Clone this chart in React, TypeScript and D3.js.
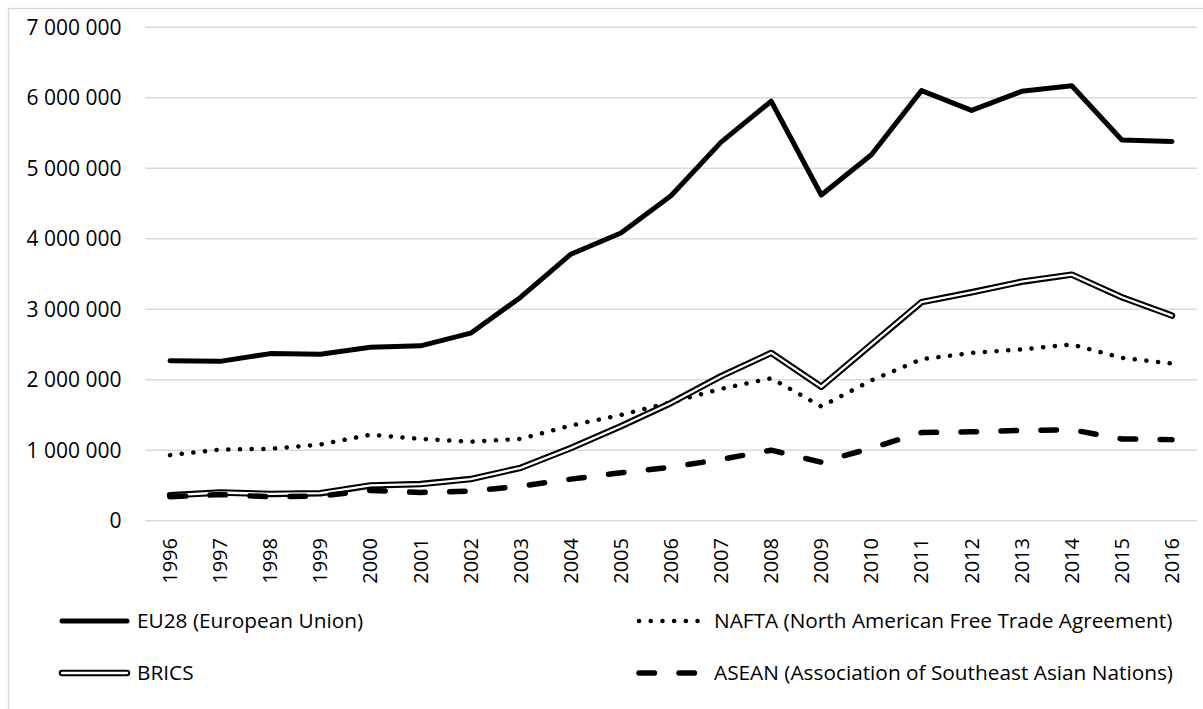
import React, { useEffect, useRef } from "react";
import * as d3 from "d3";

const years = ["1996", "1997", "1998", "1999", "2000", "2001", "2002", "2003", "2004", "2005", "2006", "2007", "2008", "2009", "2010", "2011", "2012", "2013", "2014", "2015", "2016"];
const eu28 = [2270000, 2260000, 2370000, 2360000, 2460000, 2480000, 2660000, 3170000, 3780000, 4080000, 4610000, 5370000, 5950000, 4620000, 5190000, 6100000, 5820000, 6090000, 6170000, 5400000, 5380000];
const nafta = [930000, 1010000, 1020000, 1080000, 1220000, 1160000, 1120000, 1160000, 1350000, 1500000, 1680000, 1870000, 2020000, 1620000, 1990000, 2290000, 2380000, 2430000, 2500000, 2310000, 2230000];
const brics = [360000, 400000, 380000, 390000, 500000, 520000, 590000, 750000, 1030000, 1340000, 1670000, 2050000, 2380000, 1900000, 2500000, 3100000, 3240000, 3390000, 3490000, 3170000, 2910000];
const asean = [340000, 370000, 340000, 350000, 430000, 400000, 420000, 490000, 590000, 680000, 760000, 870000, 1000000, 830000, 1030000, 1250000, 1260000, 1280000, 1290000, 1160000, 1150000];
const yTicks = [0, 1000000, 2000000, 3000000, 4000000, 5000000, 6000000, 7000000];

const seriesNames = [
  "EU28 (European Union)",
  "NAFTA (North American Free Trade Agreement)",
  "BRICS",
  "ASEAN (Association of Southeast Asian Nations)",
];

const W = 1203;
const H = 709;
const FONT = "'Open Sans', sans-serif";

// how each series is stroked
function styleLine(sel, key) {
  if (key === 0) {
    sel.attr("stroke", "#000").attr("stroke-width", 5).attr("stroke-linecap", "round");
  } else if (key === 1) {
    sel
      .attr("stroke", "#000")
      .attr("stroke-width", 4.5)
      .attr("stroke-linecap", "round")
      .attr("stroke-dasharray", "0.1 11.6");
  } else if (key === 3) {
    sel
      .attr("stroke", "#000")
      .attr("stroke-width", 5.5)
      .attr("stroke-linecap", "round")
      .attr("stroke-dasharray", "15.5 24.5");
  }
}

export default function App() {
  const ref = useRef(null);

  useEffect(() => {
    drawChart();
    //eslint-disable-next-line
  }, []);

  function drawChart() {
    const svg = d3.select(ref.current);
    svg.selectAll("*").remove();

    const fmt = d3.formatLocale({ decimal: ",", thousands: " ", grouping: [3], currency: ["", ""] }).format(",");

    // chart frame
    svg
      .append("rect")
      .attr("x", 8.5)
      .attr("y", 8.5)
      .attr("width", W)
      .attr("height", H)
      .attr("fill", "#fff")
      .attr("stroke", "#d9d9d9")
      .attr("stroke-width", 1.3);

    const x = d3.scaleBand().domain(years).range([145, 1197]);
    const y = d3.scaleLinear().domain([0, 7000000]).range([520.7, 27.2]);

    // gridlines
    svg
      .append("g")
      .selectAll("line")
      .data(yTicks)
      .enter()
      .append("line")
      .attr("x1", 145)
      .attr("x2", 1197)
      .attr("y1", (d) => y(d))
      .attr("y2", (d) => y(d))
      .attr("stroke", "#d9d9d9")
      .attr("stroke-width", 1.5);

    // Y labels
    svg
      .append("g")
      .selectAll("text")
      .data(yTicks)
      .enter()
      .append("text")
      .attr("x", 121.5)
      .attr("y", (d) => y(d))
      .attr("dy", "0.35em")
      .attr("text-anchor", "end")
      .style("font-family", FONT)
      .style("font-size", "21px")
      .attr("fill", "#000")
      .text((d) => fmt(d));

    // X labels, rotated
    svg
      .append("g")
      .selectAll("text")
      .data(years)
      .enter()
      .append("text")
      .attr("transform", (d) => `translate(${x(d) + x.bandwidth() / 2},538) rotate(-90)`)
      .attr("dy", "0.35em")
      .attr("text-anchor", "end")
      .style("font-family", FONT)
      .style("font-size", "20px")
      .attr("fill", "#000")
      .text((d) => d);

    const line = d3
      .line()
      .x((d, i) => x(years[i]) + x.bandwidth() / 2)
      .y((d) => y(d));

    const all = [eu28, nafta, brics, asean];
    all.forEach((vals, k) => {
      if (k === 2) {
        svg.append("path").attr("d", line(vals)).attr("fill", "none").attr("stroke", "#000").attr("stroke-width", 6.5).attr("stroke-linejoin", "round").attr("stroke-linecap", "round");
        svg.append("path").attr("d", line(vals)).attr("fill", "none").attr("stroke", "#fff").attr("stroke-width", 2.3).attr("stroke-linejoin", "round").attr("stroke-linecap", "round");
      } else {
        const p = svg.append("path").attr("d", line(vals)).attr("fill", "none").attr("stroke-linejoin", "round");
        styleLine(p, k);
      }
    });

    // legend
    const legendPos = [
      { lx: 59, ly: 621 },
      { lx: 636, ly: 621 },
      { lx: 59, ly: 673 },
      { lx: 636, ly: 673 },
    ];
    seriesNames.forEach((name, k) => {
      const { lx, ly } = legendPos[k];
      const seg = `M${lx + 3},${ly}L${lx + 68},${ly}`;
      if (k === 2) {
        svg.append("path").attr("d", seg).attr("stroke", "#000").attr("stroke-width", 6.5).attr("stroke-linecap", "round");
        svg.append("path").attr("d", seg).attr("stroke", "#fff").attr("stroke-width", 2.3).attr("stroke-linecap", "round");
      } else {
        const p = svg.append("path").attr("d", seg).attr("fill", "none");
        styleLine(p, k);
      }
      svg
        .append("text")
        .attr("x", lx + 78)
        .attr("y", ly)
        .attr("dy", "0.35em")
        .style("font-family", FONT)
        .style("font-size", "20.8px")
        .attr("fill", "#000")
        .text(name);
    });
  }

  return (
    <div style={{ position: "absolute", left: 0, top: 0, width: W, height: H, overflow: "hidden" }}>
      <svg ref={ref} width={W} height={H} style={{ display: "block" }} />
    </div>
  );
}
